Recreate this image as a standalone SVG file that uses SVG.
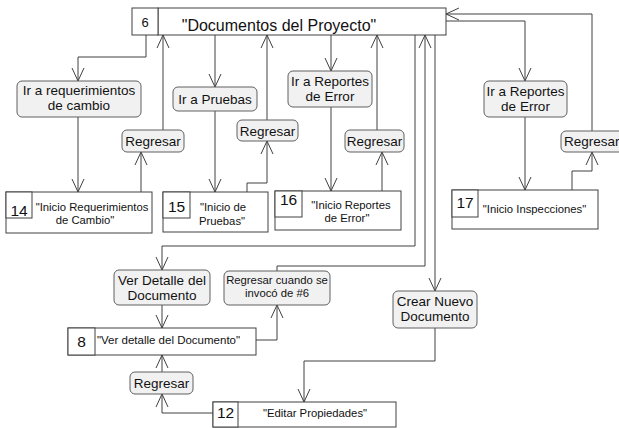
<svg xmlns="http://www.w3.org/2000/svg" width="619" height="428" viewBox="0 0 619 428">
  <defs>
    <marker id="open" viewBox="-14 -8 16 16" refX="0" refY="0" markerWidth="16" markerHeight="16" markerUnits="userSpaceOnUse" orient="auto" overflow="visible">
      <path d="M-13,-6 L0,0 L-13,6" fill="none" stroke="#404040" stroke-width="1"/>
    </marker>
    <style>
      text { font-family: "Liberation Sans", Arial, sans-serif; fill: #111; }
      .box { fill: #ffffff; stroke: #404040; stroke-width: 1; }
      .lbl { fill: #f1f1f1; stroke: #606060; stroke-width: 1; }
      .edge { fill: none; stroke: #404040; stroke-width: 1; marker-end: url(#open); }
      .act { font-size: 13.5px; text-anchor: middle; }
      .small { font-size: 11.3px; text-anchor: middle; }
      .num { font-size: 15.5px; text-anchor: middle; }
      .title { font-size: 16px; text-anchor: middle; }
    </style>
  </defs>

  <!-- connectors -->
  <g id="connectors">
    <path class="edge" d="M146,35 V57 H78 V81"/>
    <path class="edge" d="M78,117 V192"/>
    <path class="edge" d="M141,192 V152"/>
    <path class="edge" d="M163,130 V35"/>
    <path class="edge" d="M215,35 V87"/>
    <path class="edge" d="M215,111 V192"/>
    <path class="edge" d="M247,192 V183 H267 V141"/>
    <path class="edge" d="M267,120 V35"/>
    <path class="edge" d="M331,35 V71"/>
    <path class="edge" d="M331,107 V191"/>
    <path class="edge" d="M382,191 V152"/>
    <path class="edge" d="M377,130 V35"/>
    <path class="edge" d="M415,35 V246 H162 V270"/>
    <path class="edge" d="M277,271 V266 H425 V35"/>
    <path class="edge" d="M435,35 V291"/>
    <path class="edge" d="M435,328 V361 H304 V402"/>
    <path class="edge" d="M213,413 H162 V394"/>
    <path class="edge" d="M162,372 V355"/>
    <path class="edge" d="M162,305 V328"/>
    <path class="edge" d="M256,340 H277 V305"/>
    <path class="edge" d="M446,21 H525 V81"/>
    <path class="edge" d="M525,117 V190"/>
    <path class="edge" d="M572,190 V171 H592 V152"/>
    <path class="edge" d="M592,131 V14 H446"/>
  </g>

  <!-- screens -->
  <g id="n6">
    <rect class="box" x="158" y="8" width="288" height="27"/>
    <rect class="box" x="132" y="8" width="26" height="27"/>
    <text class="num" x="145" y="27" style="font-size:13px">6</text>
    <text class="title" x="279" y="31">"Documentos del Proyecto"</text>
  </g>
  <g id="n14">
    <rect class="box" x="6" y="192" width="146" height="41"/>
    <rect class="box" x="6" y="192" width="26" height="26"/>
    <text class="num" x="19" y="216">14</text>
    <text class="small" x="92" y="211">"Inicio Requerimientos</text>
    <text class="small" x="85" y="224">de Cambio"</text>
  </g>
  <g id="n15">
    <rect class="box" x="163" y="192" width="105" height="40"/>
    <rect class="box" x="163" y="192" width="27" height="26"/>
    <text class="num" x="176.5" y="212">15</text>
    <text class="small" x="223" y="211">"Inicio de</text>
    <text class="small" x="222" y="225">Pruebas"</text>
  </g>
  <g id="n16">
    <rect class="box" x="275" y="191" width="126" height="39"/>
    <rect class="box" x="275" y="191" width="27" height="26"/>
    <text class="num" x="288.5" y="205">16</text>
    <text class="small" x="351" y="209">"Inicio Reportes</text>
    <text class="small" x="347" y="222">de Error"</text>
  </g>
  <g id="n17">
    <rect class="box" x="452" y="190" width="146" height="39"/>
    <rect class="box" x="452" y="190" width="26" height="27"/>
    <text class="num" x="465" y="208">17</text>
    <text class="small" x="534.5" y="213">"Inicio Inspecciones"</text>
  </g>
  <g id="n8">
    <rect class="box" x="68" y="328" width="188" height="27"/>
    <rect class="box" x="68" y="328" width="27" height="27"/>
    <text class="num" x="81.5" y="347">8</text>
    <text x="97" y="344" style="font-size:11.5px">"Ver detalle del Documento"</text>
  </g>
  <g id="n12">
    <rect class="box" x="213" y="402" width="183" height="25"/>
    <rect class="box" x="213" y="402" width="25" height="25"/>
    <text class="num" x="225.5" y="418">12</text>
    <text class="small" x="315" y="417">"Editar Propiedades"</text>
  </g>

  <!-- navigation actions -->
  <g id="a-req">
    <rect class="lbl" x="17" y="81" width="124" height="36" rx="5"/>
    <text class="act" x="79" y="95">Ir a requerimientos</text>
    <text class="act" x="79" y="110">de cambio</text>
  </g>
  <g id="a-pruebas">
    <rect class="lbl" x="173" y="87" width="84" height="24" rx="5"/>
    <text class="act" x="215" y="104">Ir a Pruebas</text>
  </g>
  <g id="a-rep1">
    <rect class="lbl" x="288" y="71" width="84" height="36" rx="5"/>
    <text class="act" x="330" y="86">Ir a Reportes</text>
    <text class="act" x="330" y="101">de Error</text>
  </g>
  <g id="a-rep2">
    <rect class="lbl" x="484" y="81" width="83" height="36" rx="5"/>
    <text class="act" x="525.5" y="96">Ir a Reportes</text>
    <text class="act" x="525.5" y="111">de Error</text>
  </g>
  <g id="a-back1">
    <rect class="lbl" x="122" y="130" width="62" height="22" rx="5"/>
    <text class="act" x="153" y="146">Regresar</text>
  </g>
  <g id="a-back2">
    <rect class="lbl" x="237" y="120" width="61" height="21" rx="5"/>
    <text class="act" x="267.5" y="136">Regresar</text>
  </g>
  <g id="a-back3">
    <rect class="lbl" x="345" y="130" width="59" height="22" rx="5"/>
    <text class="act" x="374.5" y="146">Regresar</text>
  </g>
  <g id="a-back4">
    <rect class="lbl" x="561" y="131" width="64" height="21" rx="5"/>
    <text x="564" y="146" style="font-size:13.5px">Regresar</text>
  </g>
  <g id="a-detalle">
    <rect class="lbl" x="114" y="270" width="96" height="35" rx="5"/>
    <text class="act" x="162" y="285">Ver Detalle del</text>
    <text class="act" x="162" y="300">Documento</text>
  </g>
  <g id="a-back6">
    <rect class="lbl" x="224" y="271" width="106" height="34" rx="5"/>
    <text class="small" x="277" y="284">Regresar cuando se</text>
    <text class="small" x="277" y="297">invocó de #6</text>
  </g>
  <g id="a-crear">
    <rect class="lbl" x="393" y="291" width="84" height="37" rx="5"/>
    <text class="act" x="435" y="306">Crear Nuevo</text>
    <text class="act" x="435" y="321">Documento</text>
  </g>
  <g id="a-back8">
    <rect class="lbl" x="130" y="372" width="63" height="22" rx="5"/>
    <text class="act" x="161.5" y="388">Regresar</text>
  </g>
</svg>
